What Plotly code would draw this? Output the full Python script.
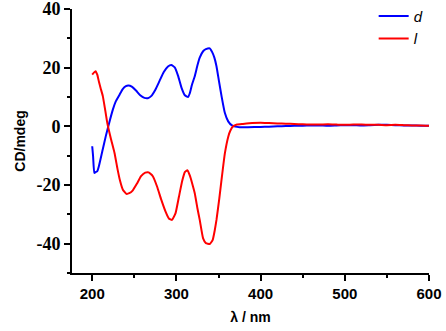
import plotly.graph_objects as go

d_x = [200, 201, 202.5, 204, 206, 208, 212, 216, 220, 224.5, 228, 232.5, 236, 240, 243, 247, 252, 257, 262, 266,
       270, 275, 280, 285, 290, 294, 298, 302, 306, 310, 313.8, 315.8, 318.5, 321.8, 325, 327.7, 331.7, 335, 339.6,
       342.5, 345, 347.6, 350.5, 353.6, 357.5, 361.5, 366, 370, 375, 385, 400, 410, 420, 430, 440, 450, 460, 470,
       480, 490, 500, 510, 520, 530, 540, 550, 560, 570, 580, 590, 600]
d_y = [-6.8, -10, -15.9, -15.6, -15.3, -13.5, -8.5, -3.5, 1.0, 5.7, 8.5, 10.8, 12.6, 13.7, 13.9, 13.5, 12.2, 10.6, 9.7,
       9.6, 10.3, 12.5, 15.5, 18.5, 20.4, 20.9, 20.1, 17.2, 13.2, 10.6, 10.0, 11.2, 14.2, 17.1, 20.8, 23.4, 25.6, 26.3,
       26.6, 25.3, 23.5, 20.5, 15.5, 10.3, 4.6, 1.7, 0.3, -0.1, -0.3, -0.3, -0.2, -0.1, 0.0, 0.1, 0.2, 0.2, 0.3, 0.3,
       0.2, 0.3, 0.4, 0.4, 0.3, 0.4, 0.5, 0.5, 0.4, 0.3, 0.3, 0.2, 0.2]

l_x = [200, 202, 204, 206, 208, 210, 212.6, 215, 218, 222, 226.5, 230, 233, 236.4, 240.5, 244, 248, 253, 258, 263,
       267, 272, 277, 282, 287, 291, 294.8, 299, 303, 307, 310, 313, 316, 318.5, 321.8, 325, 327.7, 331.7, 335,
       339.6, 343, 345.5, 347.6, 351, 353.6, 357.5, 361.5, 364, 367.4, 372, 379, 390, 400, 410, 420, 430, 440,
       450, 460, 470, 480, 490, 500, 510, 520, 530, 540, 550, 560, 570, 580, 590, 600]
l_y = [17.6, 18.3, 18.8, 17.6, 15.2, 13.0, 10.3, 6.3, 1.0, -4.0, -9.1, -14.5, -18.5, -21.6, -23.0, -22.8, -21.9,
       -19.6, -17.0, -15.8, -15.7, -17.0, -20.5, -25.0, -29.0, -31.4, -31.9, -29.6, -24.0, -18.5, -15.6, -15.0,
       -16.8, -19.2, -22.8, -28.0, -31.9, -38.2, -39.8, -40.1, -38.8, -35.5, -31.9, -24.5, -18.2, -9.3, -3.6, -1.5,
       0.0, 0.6, 0.8, 1.1, 1.2, 1.1, 1.0, 0.9, 0.8, 0.7, 0.6, 0.6, 0.7, 0.6, 0.5, 0.6, 0.6, 0.5, 0.5, 0.4, 0.5, 0.4,
       0.3, 0.3, 0.2]

x_ticks = [200, 300, 400, 500, 600]
y_ticks = [-40, -20, 0, 20, 40]

fig = go.Figure()
fig.add_trace(go.Scatter(x=d_x, y=d_y, mode="lines", name="<i>d</i>",
                         line=dict(color="#0000FF", width=2, shape="spline", smoothing=0.4)))
fig.add_trace(go.Scatter(x=l_x, y=l_y, mode="lines", name="<i>l</i>",
                         line=dict(color="#FF0000", width=2, shape="spline", smoothing=0.4)))

fig.update_layout(
    width=446, height=331,
    margin=dict(l=72, r=17, t=9, b=58, autoexpand=False),
    paper_bgcolor="white", plot_bgcolor="white",
    showlegend=True,
    legend=dict(x=0.845, y=1.035, xanchor="left", yanchor="top", bgcolor="rgba(0,0,0,0)",
                font=dict(family="Liberation Sans", size=15, color="black"),
                tracegroupgap=0, itemwidth=30),
    xaxis=dict(range=[176, 600], tickmode="array", tickvals=x_ticks,
               ticktext=["<b>%d</b>" % v for v in x_ticks], automargin=False, ticklabeloverflow="allow",
               showgrid=False, zeroline=False, showline=True, linecolor="black", linewidth=2,
               ticks="outside", ticklen=6, tickwidth=2, tickcolor="black",
               minor=dict(ticks="outside", ticklen=3, tickwidth=2, tickcolor="black", dtick=50, tick0=0),
               tickfont=dict(family="Liberation Sans", size=15, color="black"),
               title=dict(text="<b>λ / nm</b>", font=dict(family="Liberation Sans", size=14, color="black"),
                          standoff=11)),
    yaxis=dict(range=[-50, 40], tickmode="array", tickvals=y_ticks,
               ticktext=["<b>%d</b>" % v for v in y_ticks], automargin=False, ticklabeloverflow="allow",
               showgrid=False, zeroline=False, showline=True, linecolor="black", linewidth=2,
               ticks="outside", ticklen=6, tickwidth=2, tickcolor="black",
               minor=dict(ticks="outside", ticklen=3, tickwidth=2, tickcolor="black", dtick=10, tick0=0),
               tickfont=dict(family="Times New Roman", size=18, color="black"),
               title=dict(text="<b>CD/mdeg</b>", font=dict(family="Liberation Sans", size=14, color="black"),
                          standoff=8)),
)

fig.write_html("out.html", config={"displayModeBar": False},
               post_script="document.body.style.margin='0';")
